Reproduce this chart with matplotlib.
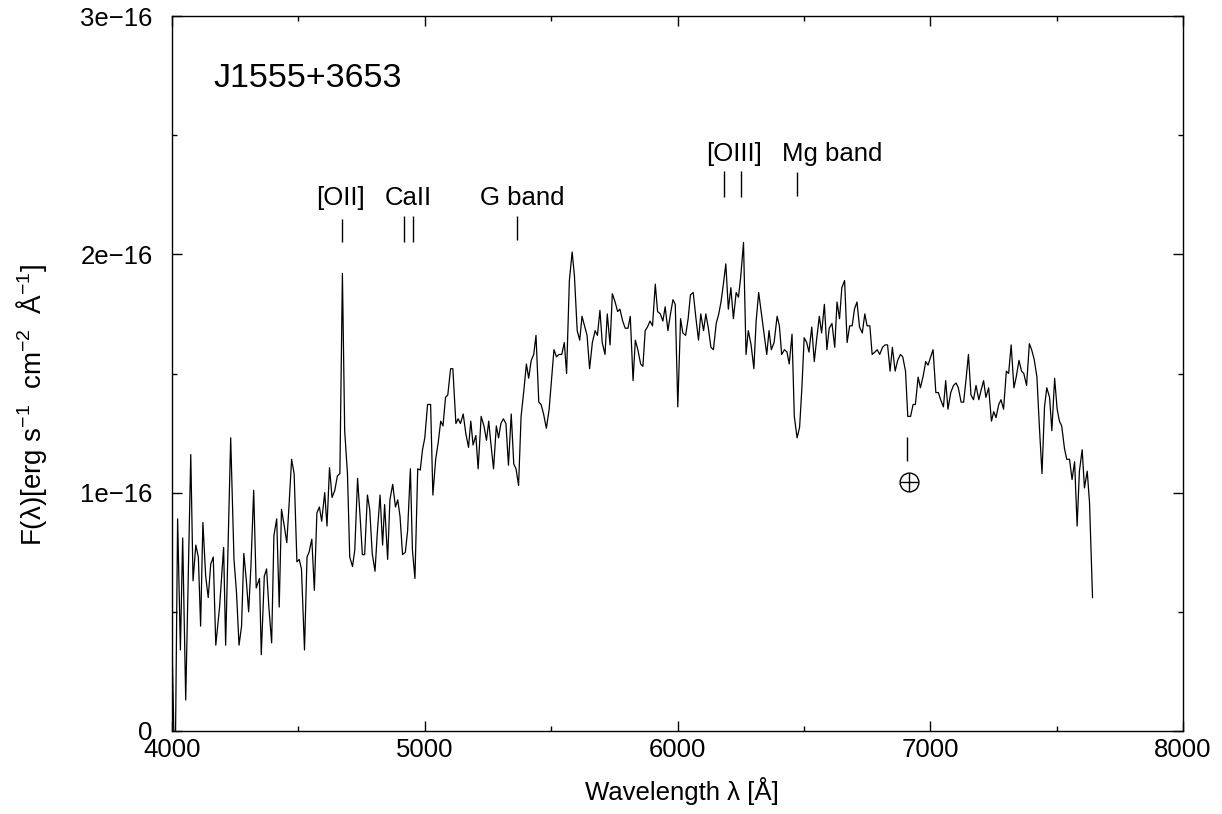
#!/usr/bin/env python3
"""Optical spectrum of J1555+3653 with line identifications."""

import matplotlib
matplotlib.use('Agg')
import matplotlib.pyplot as plt
from matplotlib.ticker import MultipleLocator, FuncFormatter

plt.rcParams.update({
    'font.family': ['Liberation Sans', 'DejaVu Sans'],
    'mathtext.fontset': 'custom',
    'mathtext.rm': 'Liberation Sans',
    'mathtext.default': 'regular',
    'font.size': 18,
})

# spectrum (wavelength in Angstrom, flux in units of 1e-16 erg/s/cm2/A)
wavelength = [
    4000, 4009, 4013, 4022, 4033, 4042, 4054, 4074, 4083, 4094, 4104, 4113,
    4122, 4133, 4143, 4153, 4163, 4173, 4188, 4204, 4212, 4232, 4245, 4255,
    4265, 4275, 4284, 4294, 4303, 4312, 4323, 4333, 4346, 4353, 4365, 4374,
    4383, 4394, 4403, 4414, 4424, 4433, 4444, 4454, 4463, 4473, 4483, 4494,
    4503, 4512, 4524, 4534, 4542, 4553, 4563, 4573, 4583, 4592, 4604, 4613,
    4623, 4633, 4644, 4654, 4664, 4674, 4683, 4694, 4703, 4714, 4723, 4734,
    4744, 4753, 4762, 4773, 4782, 4792, 4803, 4812, 4823, 4833, 4841, 4853,
    4862, 4873, 4884, 4893, 4902, 4912, 4923, 4932, 4943, 4951, 4961, 4972,
    4982, 4991, 5000, 5011, 5023, 5032, 5043, 5053, 5063, 5072, 5082, 5091,
    5102, 5111, 5123, 5132, 5141, 5152, 5162, 5173, 5182, 5191, 5202, 5211,
    5223, 5234, 5244, 5253, 5261, 5272, 5283, 5292, 5301, 5311, 5321, 5331,
    5342, 5352, 5361, 5371, 5381, 5392, 5402, 5411, 5421, 5431, 5440, 5451,
    5460, 5470, 5481, 5492, 5501, 5511, 5521, 5531, 5542, 5552, 5561, 5572,
    5583, 5592, 5603, 5613, 5622, 5633, 5642, 5652, 5663, 5674, 5683, 5693,
    5702, 5713, 5722, 5733, 5742, 5753, 5763, 5772, 5783, 5793, 5804, 5813,
    5824, 5833, 5843, 5854, 5863, 5872, 5881, 5891, 5901, 5912, 5921, 5932,
    5942, 5951, 5962, 5972, 5982, 5991, 6001, 6012, 6021, 6032, 6042, 6051,
    6062, 6073, 6083, 6092, 6103, 6112, 6122, 6132, 6142, 6153, 6163, 6172,
    6182, 6191, 6201, 6211, 6221, 6232, 6241, 6250, 6261, 6271, 6280, 6291,
    6302, 6311, 6321, 6332, 6342, 6353, 6362, 6371, 6382, 6394, 6403, 6412,
    6423, 6433, 6442, 6453, 6462, 6473, 6483, 6492, 6501, 6511, 6520, 6531,
    6541, 6550, 6561, 6570, 6581, 6591, 6600, 6611, 6622, 6631, 6641, 6650,
    6661, 6671, 6681, 6691, 6700, 6710, 6720, 6731, 6741, 6750, 6761, 6770,
    6781, 6790, 6800, 6811, 6821, 6831, 6841, 6850, 6861, 6871, 6882, 6891,
    6902, 6911, 6922, 6932, 6941, 6952, 6961, 6972, 6982, 6991, 7002, 7011,
    7022, 7032, 7041, 7052, 7061, 7070, 7081, 7092, 7102, 7111, 7122, 7132,
    7141, 7151, 7161, 7171, 7181, 7192, 7201, 7211, 7220, 7231, 7242, 7251,
    7260, 7271, 7280, 7290, 7301, 7310, 7320, 7331, 7340, 7351, 7361, 7370,
    7381, 7392, 7401, 7411, 7422, 7431, 7442, 7452, 7461, 7472, 7481, 7492,
    7502, 7511, 7520, 7531, 7540, 7551, 7561, 7571, 7581, 7590, 7601, 7610,
    7621, 7630, 7642,
]
flux = [
    0.36, -0.1, -0.1, 0.89, 0.34, 0.81, 0.13, 1.16, 0.63, 0.78, 0.73, 0.44,
    0.875, 0.65, 0.56, 0.70, 0.73, 0.36, 0.52, 0.77, 0.36, 1.23, 0.72, 0.58,
    0.36, 0.44, 0.745, 0.63, 0.50, 0.69, 1.01, 0.60, 0.64, 0.32, 0.65, 0.68,
    0.52, 0.37, 0.82, 0.89, 0.52, 0.93, 0.86, 0.79, 0.95, 1.14, 1.08, 0.71,
    0.72, 0.68, 0.34, 0.73, 0.75, 0.805, 0.59, 0.915, 0.94, 0.88, 1.00, 0.86,
    1.105, 0.98, 1.01, 1.07, 1.08, 1.92, 1.26, 1.08, 0.73, 0.69, 0.76, 1.06,
    0.90, 0.74, 0.74, 0.99, 0.93, 0.745, 0.67, 0.83, 0.99, 0.78, 0.95, 0.72,
    0.97, 1.035, 0.94, 0.97, 0.90, 0.74, 0.75, 0.84, 1.10, 0.76, 0.64, 1.10,
    1.095, 1.18, 1.23, 1.37, 1.37, 0.99, 1.14, 1.21, 1.30, 1.28, 1.40, 1.41,
    1.52, 1.52, 1.29, 1.31, 1.29, 1.33, 1.25, 1.19, 1.30, 1.20, 1.24, 1.10,
    1.32, 1.28, 1.22, 1.30, 1.21, 1.10, 1.28, 1.23, 1.29, 1.31, 1.29, 1.115,
    1.33, 1.12, 1.10, 1.03, 1.32, 1.43, 1.54, 1.48, 1.555, 1.58, 1.66, 1.38,
    1.37, 1.33, 1.27, 1.35, 1.47, 1.60, 1.57, 1.58, 1.58, 1.63, 1.50, 1.89,
    2.01, 1.91, 1.68, 1.64, 1.74, 1.695, 1.66, 1.52, 1.63, 1.68, 1.66, 1.765,
    1.63, 1.58, 1.75, 1.62, 1.835, 1.80, 1.76, 1.77, 1.72, 1.69, 1.69, 1.74,
    1.47, 1.64, 1.60, 1.54, 1.53, 1.68, 1.695, 1.72, 1.70, 1.875, 1.76, 1.75,
    1.72, 1.78, 1.68, 1.75, 1.81, 1.79, 1.36, 1.73, 1.67, 1.66, 1.73, 1.83,
    1.84, 1.73, 1.64, 1.75, 1.68, 1.75, 1.69, 1.61, 1.60, 1.71, 1.75, 1.80,
    1.88, 1.96, 1.77, 1.86, 1.73, 1.84, 1.82, 1.905, 2.05, 1.58, 1.68, 1.62,
    1.52, 1.72, 1.84, 1.75, 1.67, 1.58, 1.68, 1.60, 1.63, 1.74, 1.70, 1.58,
    1.60, 1.59, 1.54, 1.665, 1.32, 1.23, 1.275, 1.44, 1.65, 1.63, 1.59, 1.695,
    1.55, 1.64, 1.74, 1.67, 1.79, 1.60, 1.69, 1.71, 1.61, 1.80, 1.73, 1.86,
    1.89, 1.63, 1.70, 1.70, 1.77, 1.80, 1.695, 1.67, 1.75, 1.70, 1.70, 1.58,
    1.59, 1.60, 1.58, 1.61, 1.62, 1.62, 1.51, 1.61, 1.51, 1.555, 1.58, 1.57,
    1.51, 1.32, 1.32, 1.37, 1.37, 1.485, 1.44, 1.49, 1.55, 1.535, 1.57, 1.60,
    1.42, 1.42, 1.39, 1.36, 1.47, 1.35, 1.42, 1.45, 1.46, 1.44, 1.38, 1.38,
    1.47, 1.58, 1.41, 1.39, 1.45, 1.39, 1.43, 1.47, 1.40, 1.44, 1.30, 1.34,
    1.315, 1.37, 1.39, 1.35, 1.51, 1.50, 1.62, 1.44, 1.485, 1.555, 1.51, 1.50,
    1.45, 1.625, 1.60, 1.56, 1.485, 1.29, 1.08, 1.36, 1.44, 1.40, 1.26, 1.48,
    1.35, 1.30, 1.28, 1.185, 1.14, 1.14, 1.055, 1.13, 0.86, 1.09, 1.18, 1.02,
    1.09, 0.96, 0.56,
]
flux_scale = 1e-16

# line identifications: label, label x, label y (baseline), tick x positions, tick y range
line_labels = ['[OII]', 'CaII', 'G band', '[OIII]', 'Mg band']
label_x = [4667, 4936, 5386, 6222, 6611]
label_y = [2.205, 2.205, 2.205, 2.39, 2.39]
tick_x = [[4671], [4916, 4952], [5363], [6184, 6252], [6473]]
tick_y0 = [2.05, 2.05, 2.06, 2.24, 2.245]
tick_y1 = [2.15, 2.16, 2.16, 2.35, 2.345]

# telluric band marker
telluric_x = 6907
telluric_y = (1.133, 1.234)
earth_x = 6915
earth_y = 1.045

object_name = 'J1555+3653'


def sci_label(v, pos):
    if abs(v) < 1e-30:
        return '0'
    m = v / flux_scale
    return f'{m:g}e\u221216'


fig = plt.figure(figsize=(12.22, 8.14), dpi=100)
ax = fig.add_axes([0.1408, 0.1020, 0.8273, 0.8783])

fl = [f * flux_scale for f in flux]
ax.plot(wavelength, fl, color='black', linewidth=0.9)

for lab, lx, ly, txs, y0, y1 in zip(line_labels, label_x, label_y,
                                     tick_x, tick_y0, tick_y1):
    ax.text(lx, ly * flux_scale, lab, ha='center', va='baseline', fontsize=18.5)
    ax.vlines(txs, y0 * flux_scale, y1 * flux_scale, color='black', linewidth=1)

ax.vlines(telluric_x, telluric_y[0] * flux_scale, telluric_y[1] * flux_scale,
          color='black', linewidth=1)
ax.plot(earth_x, earth_y * flux_scale, 'o', ms=13.5, mfc='none', mec='black', mew=1)
ax.plot(earth_x, earth_y * flux_scale, '+', ms=13.5, mew=1, color='black')

ax.text(4162, 2.738 * flux_scale, object_name, ha='left', va='center', fontsize=24.5)

ax.set_xlim(4000, 8000)
ax.set_ylim(0, 3e-16)
ax.xaxis.set_major_locator(MultipleLocator(1000))
ax.xaxis.set_minor_locator(MultipleLocator(500))
ax.yaxis.set_major_locator(MultipleLocator(1e-16))
ax.yaxis.set_minor_locator(MultipleLocator(0.5e-16))
ax.yaxis.set_major_formatter(FuncFormatter(sci_label))

ax.tick_params(which='both', direction='in', top=True, right=True, labelsize=18.5)
ax.tick_params(which='major', length=7, width=1)
ax.tick_params(which='minor', length=3.6, width=1)
ax.tick_params(axis='y', pad=14)
ax.tick_params(axis='x', pad=5)
for s in ax.spines.values():
    s.set_linewidth(1)

ax.set_xlabel('Wavelength λ [Å]', fontsize=18.5)
ax.set_ylabel('F(λ)[erg s$^{-1}$  cm$^{-2}$  Å$^{-1}$]', fontsize=20)
ax.xaxis.set_label_coords(0.5045, -0.064)
ax.yaxis.set_label_coords(-0.122, 0.456)

fig.savefig('out.png', dpi=100)
